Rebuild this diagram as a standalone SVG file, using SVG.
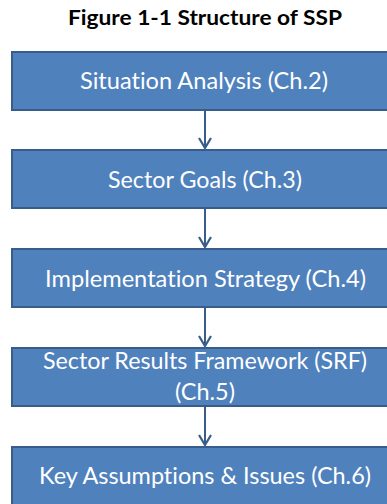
<svg xmlns="http://www.w3.org/2000/svg" width="387" height="504" viewBox="0 0 387 504">
  <style>
    .box { fill: #4F81BD; stroke: #385D8A; stroke-width: 2; }
    .label { font-family: Lato, "Liberation Sans", sans-serif; font-size: 23px; fill: #FFFFFF; text-anchor: middle; font-variant-ligatures: none; }
    .title { font-family: Lato, "Liberation Sans", sans-serif; font-size: 21px; font-weight: bold; fill: #000000; text-anchor: middle; }
    .edge { stroke: #385D8A; stroke-width: 2; fill: none; }
  </style>
  <defs>
    <!-- open chevron arrowhead, drawn along +x so orient="auto" turns it with the line -->
    <marker id="arrow" viewBox="0 0 12 14" refX="11" refY="7" markerWidth="12" markerHeight="14" markerUnits="userSpaceOnUse" orient="auto">
      <path d="M1,1 L11,7 L1,13" fill="none" stroke="#385D8A" stroke-width="2.2"/>
    </marker>
  </defs>
  <rect width="387" height="504" fill="#FFFFFF"/>

  <text class="title" x="205" y="24.5" textLength="274" lengthAdjust="spacingAndGlyphs">Figure 1-1 Structure of SSP</text>

  <g id="connectors">
    <line class="edge" x1="205" y1="111" x2="205" y2="148" marker-end="url(#arrow)"/>
    <line class="edge" x1="205" y1="209" x2="205" y2="247" marker-end="url(#arrow)"/>
    <line class="edge" x1="205" y1="308" x2="205" y2="346" marker-end="url(#arrow)"/>
    <line class="edge" x1="205" y1="407" x2="205" y2="445" marker-end="url(#arrow)"/>
  </g>

  <g id="situation-analysis">
    <rect class="box" x="12" y="52" width="388" height="58"/>
    <text class="label" x="204" y="89" textLength="248" lengthAdjust="spacingAndGlyphs">Situation Analysis (Ch.2)</text>
  </g>

  <g id="sector-goals">
    <rect class="box" x="12" y="150" width="388" height="58"/>
    <text class="label" x="205" y="188" textLength="194" lengthAdjust="spacingAndGlyphs">Sector Goals (Ch.3)</text>
  </g>

  <g id="implementation-strategy">
    <rect class="box" x="12" y="249" width="388" height="58"/>
    <text class="label" x="205.5" y="287" textLength="321" lengthAdjust="spacingAndGlyphs">Implementation Strategy (Ch.4)</text>
  </g>

  <g id="sector-results-framework">
    <rect class="box" x="12" y="348" width="388" height="58"/>
    <text class="label" x="205" y="369" textLength="324" lengthAdjust="spacingAndGlyphs">Sector Results Framework (SRF)</text>
    <text class="label" x="205" y="400" textLength="60" lengthAdjust="spacingAndGlyphs">(Ch.5)</text>
  </g>

  <g id="key-assumptions">
    <rect class="box" x="12" y="447" width="388" height="58"/>
    <text class="label" x="205" y="484" textLength="332" lengthAdjust="spacingAndGlyphs">Key Assumptions &amp; Issues (Ch.6)</text>
  </g>
</svg>
